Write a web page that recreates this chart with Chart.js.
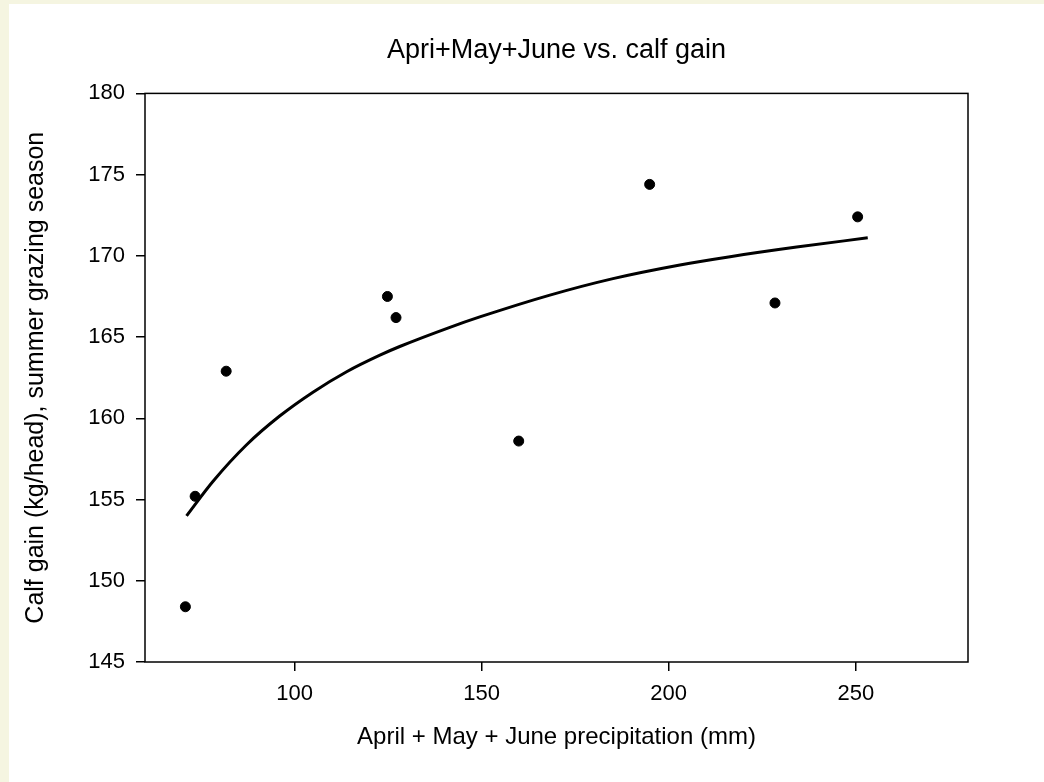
<!DOCTYPE html>
<html>
<head>
<meta charset="utf-8">
<script src="https://cdn.jsdelivr.net/npm/chart.js@4.4.1/dist/chart.umd.min.js"></script>
<style>
  html, body { margin: 0; padding: 0; background: #f5f5e1; overflow: hidden; }
  #frame { position: absolute; left: 9px; top: 4px; width: 1035px; height: 778px; background: #fff; }
  canvas { display: block; }
</style>
</head>
<body>
<div id="frame"><canvas id="chart" width="1035" height="778"></canvas></div>
<script>
// observed years: April+May+June precipitation (mm) vs calf gain (kg/head)
const precip = [70.8, 73.4, 81.7, 124.8, 127.1, 159.9, 194.9, 228.4, 250.5];
const calfGain = [148.4, 155.2, 162.9, 167.5, 166.2, 158.6, 174.4, 167.1, 172.4];

// fitted curve
const fitX = [71.1, 78.2, 87.1, 96.0, 104.9, 113.9, 122.8, 128.1, 141.5, 149.5, 168.0, 185.1, 203.0, 216.4, 234.2, 253.2];
const fitY = [154.0, 156.13, 158.36, 160.14, 161.61, 162.87, 163.89, 164.42, 165.6, 166.24, 167.57, 168.6, 169.44, 169.95, 170.54, 171.11];

const xTicks = [100, 150, 200, 250];
const yTicks = [145, 150, 155, 160, 165, 170, 175, 180];

Chart.defaults.font.family = "'Liberation Sans', Arial, sans-serif";
Chart.defaults.color = '#000';

// box round the plot area (left/bottom come with the ticks)
const frameBox = {
  id: 'frameBox',
  afterDraw(chart) {
    const { ctx, chartArea: a } = chart;
    ctx.save();
    ctx.strokeStyle = '#000';
    ctx.lineWidth = 1.5;
    ctx.strokeRect(a.left, a.top, a.right - a.left, a.bottom - a.top);
    ctx.restore();
  }
};

const ctx = document.getElementById('chart').getContext('2d');
const chart = new Chart(ctx, {
  type: 'scatter',
  data: {
    datasets: [{
      label: 'Observed',
      data: precip.map((x, i) => ({ x: x, y: calfGain[i] })),
      backgroundColor: '#000',
      borderColor: '#000',
      pointRadius: 5,
      pointHoverRadius: 5
    }, {
      label: 'Fit',
      data: fitX.map((x, i) => ({ x: x, y: fitY[i] })),
      showLine: true,
      borderColor: '#000',
      borderWidth: 3,
      pointRadius: 0,
      cubicInterpolationMode: 'monotone'
    }]
  },
  options: {
    responsive: false,
    animation: false,
    layout: { padding: { left: 0, right: 76, top: 0, bottom: 0 } },
    plugins: {
      legend: { display: false },
      tooltip: { enabled: false },
      title: {
        display: true,
        fullSize: false,
        text: 'Apri+May+June vs. calf gain',
        font: { size: 27, weight: 'normal' },
        padding: { top: 30, bottom: 27 }
      }
    },
    scales: {
      x: {
        type: 'linear',
        min: 60,
        max: 280,
        afterBuildTicks: s => { s.ticks = xTicks.map(v => ({ value: v })); },
        afterFit: s => { s.height = 120; },
        border: { display: false },
        grid: { drawOnChartArea: false, drawTicks: true, tickLength: 9, color: '#000', lineWidth: 1.5 },
        ticks: { font: { size: 22 }, padding: 10, maxRotation: 0 },
        title: {
          display: true,
          text: 'April + May + June precipitation (mm)',
          font: { size: 24 },
          padding: { top: 0, bottom: 30 }
        }
      },
      y: {
        type: 'linear',
        min: 145,
        max: 180,
        afterBuildTicks: s => { s.ticks = yTicks.map(v => ({ value: v })); },
        afterFit: s => { s.width = 136; },
        border: { display: false },
        grid: { drawOnChartArea: false, drawTicks: true, tickLength: 9, color: '#000', lineWidth: 1.5 },
        ticks: { font: { size: 22 }, padding: 11 },
        title: {
          display: true,
          text: 'Calf gain (kg/head), summer grazing season',
          font: { size: 25 },
          padding: { top: 12, bottom: 0 }
        }
      }
    }
  },
  plugins: [frameBox]
});
</script>
</body>
</html>
